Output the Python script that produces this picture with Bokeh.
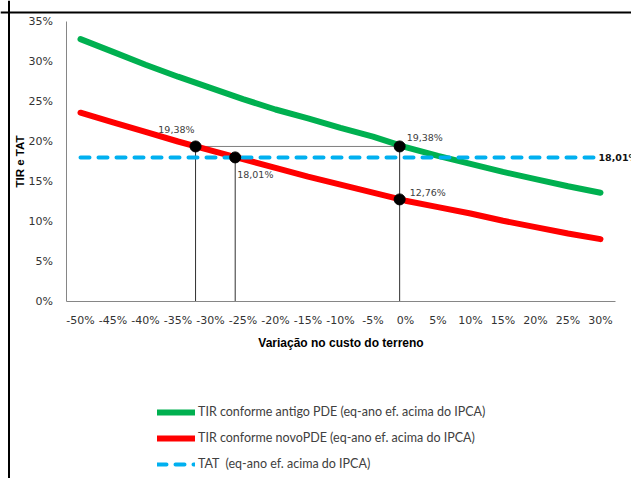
from bokeh.plotting import figure
from bokeh.models import Range1d, FixedTicker, Legend, LegendItem, Label, ColumnDataSource, Span
from bokeh.embed import file_html
from bokeh.resources import INLINE

# ---- data ----
x_pct = [-50, -45, -40, -35, -30, -25, -20, -15, -10, -5, 0, 5, 10, 15, 20, 25, 30]
x_labels = ["-50%", "-45%", "-40%", "-35%", "-30%", "-25%", "-20%", "-15%", "-10%",
            "-5%", "0%", "5%", "10%", "15%", "20%", "25%", "30%"]
tir_antigo = [32.8, 31.2, 29.6, 28.1, 26.7, 25.3, 24.0, 22.9, 21.7, 20.6, 19.3,
              18.2, 17.2, 16.2, 15.3, 14.4, 13.6]
tir_novo = [23.6, 22.4, 21.2, 20.0, 18.9, 17.8, 16.7, 15.6, 14.6, 13.6, 12.6,
            11.8, 11.0, 10.1, 9.3, 8.5, 7.8]
tat = [18.01, 18.01, 18.01, 18.01, 18.01, 18.01, 18.01, 18.01, 18.01, 18.01, 18.01,
       18.01, 18.01, 18.01, 18.01, 18.01, 18.01]
y_ticks = [0, 5, 10, 15, 20, 25, 30, 35]
y_labels = ["0%", "5%", "10%", "15%", "20%", "25%", "30%", "35%"]

mark_x = [-32.3, -26.2, -0.9, -0.9]
mark_y = [19.38, 18.01, 19.38, 12.76]
mark_txt = ["19,38%", "18,01%", "19,38%", "12,76%"]
tat_label = "18,01%"

# plot area limits (axis extents) and the wider canvas range
X_AXIS_BOUNDS = (-52.1, 32.3)
Y_AXIS_BOUNDS = (0, 35)

p = figure(frame_width=631, frame_height=478,
           min_border=0, min_border_left=0, min_border_right=0,
           min_border_top=0, min_border_bottom=0,
           x_range=Range1d(-62.308, 34.769), y_range=Range1d(-22.125, 37.625),
           output_backend="svg", toolbar_location=None)
p.outline_line_color = None
p.grid.visible = False
p.background_fill_color = "white"
p.border_fill_color = "white"

# outer chart border (top and left sides visible in the window)
p.add_layout(Span(location=36.125, dimension="width", line_color="black", line_width=2))
p.add_layout(Span(location=-61.0, dimension="height", line_color="black", line_width=2))

# axes
p.xaxis.fixed_location = 0
p.yaxis.fixed_location = X_AXIS_BOUNDS[0]
p.xaxis.bounds = X_AXIS_BOUNDS
p.yaxis.bounds = Y_AXIS_BOUNDS
for ax in (p.xaxis[0], p.yaxis[0]):
    ax.axis_line_color = "#868686"
    ax.major_tick_line_color = None
    ax.minor_tick_line_color = None
    ax.major_label_text_font = "DejaVu Sans"
    ax.major_label_text_font_size = "11px"
    ax.major_label_text_color = "#333333"
    ax.axis_label_text_font = "Liberation Sans"
    ax.axis_label_text_font_style = "bold"
    ax.axis_label_text_color = "#000000"

p.xaxis.ticker = FixedTicker(ticks=x_pct)
p.xaxis.major_label_overrides = {x: l for x, l in zip(x_pct, x_labels)}
p.xaxis.major_label_standoff = 6
p.xaxis.axis_label = "Variação no custo do terreno"
p.xaxis.axis_label_text_font_size = "12px"
p.xaxis.axis_label_standoff = 6

p.yaxis.ticker = FixedTicker(ticks=y_ticks)
p.yaxis.major_label_overrides = {y: l for y, l in zip(y_ticks, y_labels)}
p.yaxis.major_label_standoff = 8
p.yaxis.axis_label = "TIR e TAT"
p.yaxis.axis_label_text_font_size = "11.5px"
p.yaxis.axis_label_standoff = -1

# reference lines
p.segment(x0=[mark_x[0]], y0=[mark_y[0]], x1=[mark_x[2]], y1=[mark_y[2]],
          line_color="#7f7f7f", line_width=1)
p.segment(x0=mark_x[:3], y0=mark_y[:3], x1=mark_x[:3], y1=[0, 0, 0],
          line_color="#303030", line_width=1)

# series
r_g = p.line(x_pct, tir_antigo, line_color="#00B050", line_width=6, line_cap="round")
r_r = p.line(x_pct, tir_novo, line_color="#FF0000", line_width=6, line_cap="round")
r_b = p.line(x_pct, tat, line_color="#00B0F0", line_width=4, line_dash="9 9",
             line_cap="round")

# markers
src = ColumnDataSource(dict(x=mark_x, y=mark_y, t=mark_txt))
p.scatter("x", "y", source=src, size=11, fill_color="black", line_color="black")

xo = [-1, 2, 7, 10]
yo = [-17, 17, -9, -7]
al = ["right", "left", "left", "left"]
for i in range(4):
    p.add_layout(Label(x=mark_x[i], y=mark_y[i], text=mark_txt[i], x_offset=xo[i],
                       y_offset=-yo[i], text_align=al[i], text_baseline="middle",
                       text_font="DejaVu Sans", text_font_size="9.5px",
                       text_color="#404040"))

p.add_layout(Label(x=x_pct[-1], y=tat[-1], text=tat_label, x_offset=-2, y_offset=0,
                   text_align="left", text_baseline="middle", text_font="DejaVu Sans",
                   text_font_style="bold", text_font_size="9.5px", text_color="#111111"))

legend = Legend(items=[
    LegendItem(label="TIR conforme antigo PDE (eq-ano ef. acima do IPCA)", renderers=[r_g]),
    LegendItem(label="TIR conforme novoPDE (eq-ano ef. acima do IPCA)", renderers=[r_r]),
    LegendItem(label="TAT  (eq-ano ef. acima do IPCA)", renderers=[r_b]),
], location=(157, 7))
legend.glyph_width = 38
legend.glyph_height = 14
legend.label_height = 14
legend.spacing = 11
legend.padding = 0
legend.margin = 0
legend.label_standoff = 3
legend.border_line_color = None
legend.background_fill_alpha = 0
legend.label_text_font = "Lato"
legend.label_text_font_size = "12.5px"
legend.label_text_color = "#404040"
p.add_layout(legend, "center")

open("out.html", "w").write(file_html(p, INLINE))
